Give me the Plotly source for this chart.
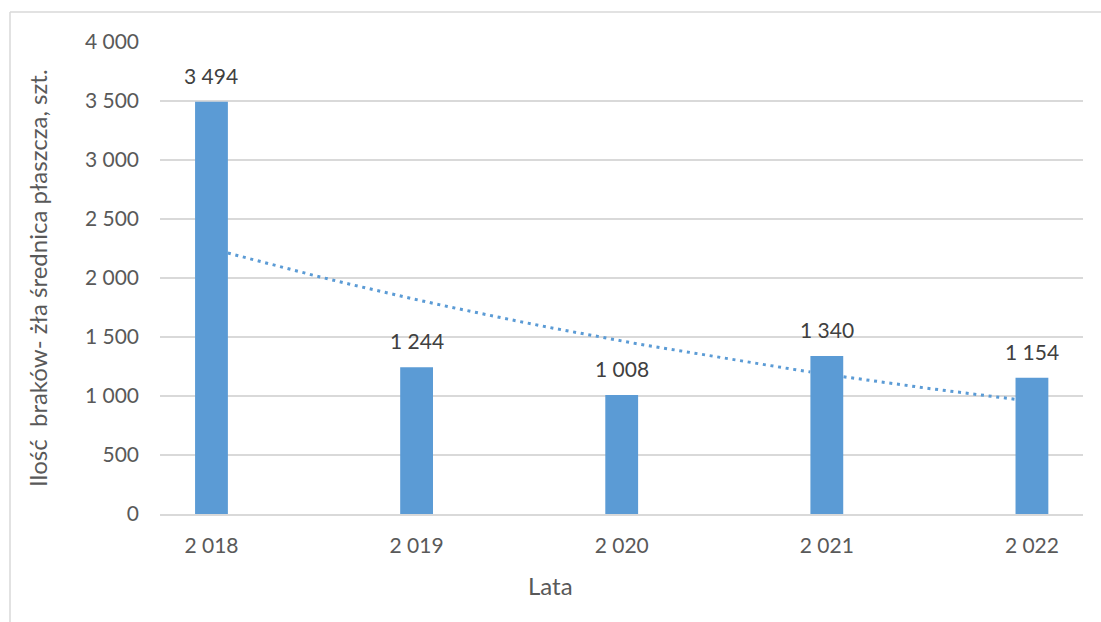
import numpy as np
import plotly.graph_objects as go

# Data
years = [2018, 2019, 2020, 2021, 2022]
defects = [3494, 1244, 1008, 1340, 1154]
y_ticks = [0, 500, 1000, 1500, 2000, 2500, 3000, 3500, 4000]

y_title = "Ilość  braków- żła średnica płaszcza, szt."
x_title = "Lata"

BAR_COLOR = "#5B9BD5"
GRID_COLOR = "#D9D9D9"
TICK_COLOR = "#595959"
LABEL_COLOR = "#404040"
FONT = "Lato"
BAR_WIDTH = 0.16
NUM_SIZE = 21


def spaced(n):
    return f"{n:,}".replace(",", " ")


W, H = 1101, 622
ML, MR, MT, MB = 160, 18, 42, 108
PW, PH = W - ML - MR, H - MT - MB

pos = np.arange(len(years), dtype=float)
vals = np.array(defects, dtype=float)

# Exponential trend line y = a * exp(b * x), fitted on the series
b, ln_a = np.polyfit(pos, np.log(vals), 1)
xt = np.linspace(pos[0], pos[-1], 2000)
yt = np.exp(ln_a) * np.exp(b * xt)
# the trend runs behind the bars: leave gaps where a bar covers it
for p, v in zip(pos, vals):
    hidden = (np.abs(xt - p) <= BAR_WIDTH / 2) & (yt <= v)
    yt = np.where(hidden, np.nan, yt)

fig = go.Figure()
fig.add_trace(go.Bar(
    x=pos, y=vals, width=BAR_WIDTH,
    marker=dict(color=BAR_COLOR, line=dict(width=0)),
    hoverinfo="skip", showlegend=False,
))
fig.add_trace(go.Scatter(
    x=xt, y=yt, mode="lines",
    line=dict(color=BAR_COLOR, width=3, dash="3px,4.7px"),
    connectgaps=False, hoverinfo="skip", showlegend=False,
))

annotations = []
for p, v in zip(pos, defects):
    annotations.append(dict(
        x=p, y=v, xref="x", yref="y", text=spaced(v), showarrow=False,
        xanchor="center", yanchor="bottom", yshift=12,
        font=dict(family=FONT, size=NUM_SIZE, color=LABEL_COLOR),
    ))

# axis titles
annotations.append(dict(
    x=(37 - ML) / PW, y=0.5, xref="paper", yref="paper", text=y_title,
    textangle=-90, showarrow=False, xanchor="center", yanchor="middle",
    font=dict(family=FONT, size=24, color=TICK_COLOR),
))
annotations.append(dict(
    x=(550 - ML) / PW, y=-(585 - (MT + PH)) / PH, xref="paper", yref="paper",
    text=x_title, showarrow=False, xanchor="center", yanchor="middle",
    font=dict(family=FONT, size=24, color=TICK_COLOR),
))

# chart frame (left and top edges)
shapes = [
    dict(type="line", xref="paper", yref="paper",
         x0=(10 - ML) / PW, x1=(W + 5 - ML) / PW,
         y0=(H - 12 - MB) / PH, y1=(H - 12 - MB) / PH,
         line=dict(color=GRID_COLOR, width=1.5)),
    dict(type="line", xref="paper", yref="paper",
         x0=(10 - ML) / PW, x1=(10 - ML) / PW,
         y0=(H - 12 - MB) / PH, y1=-(MB + 5) / PH,
         line=dict(color=GRID_COLOR, width=1.5)),
]

fig.update_layout(
    width=W, height=H,
    margin=dict(l=ML, r=MR, t=MT, b=MB, pad=0),
    paper_bgcolor="white", plot_bgcolor="white",
    font=dict(family=FONT, size=NUM_SIZE, color=TICK_COLOR),
    annotations=annotations, shapes=shapes,
    xaxis=dict(
        range=[-0.251, 4.249], tickmode="array", tickvals=pos,
        ticktext=[spaced(y) for y in years],
        showgrid=False, zeroline=False, showline=True,
        linecolor=GRID_COLOR, linewidth=1.5, ticks="",
        ticklabelstandoff=12,
        tickfont=dict(family=FONT, size=NUM_SIZE, color=TICK_COLOR),
        fixedrange=True,
    ),
    yaxis=dict(
        range=[0, 4000], tickmode="array", tickvals=y_ticks,
        ticktext=[spaced(t) for t in y_ticks],
        showgrid=True, gridcolor=GRID_COLOR, gridwidth=1.5,
        zeroline=False, showline=False, ticks="",
        ticklabelstandoff=20,
        tickfont=dict(family=FONT, size=NUM_SIZE, color=TICK_COLOR),
        fixedrange=True,
    ),
)

fig.write_html("out.html")
